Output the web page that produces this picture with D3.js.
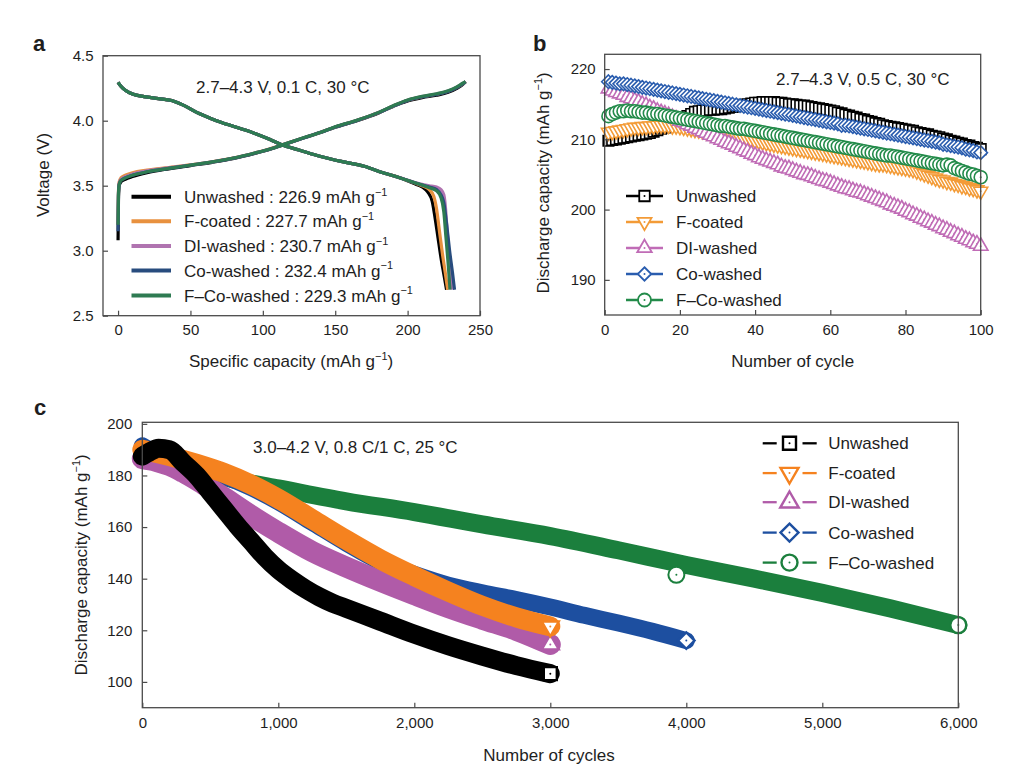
<!DOCTYPE html>
<html><head><meta charset="utf-8">
<script src="https://cdn.jsdelivr.net/npm/d3@7"></script>
<style>
html,body{margin:0;padding:0;background:#fff;}
svg{display:block;}
</style></head><body>
<svg id="chart" width="1019" height="773"></svg>
<script>
// ---------------- DATA ----------------
const seriesNames = ["Unwashed", "F-coated", "DI-washed", "Co-washed", "F\u2013Co-washed"];
const capacityLabels = ["226.9", "227.7", "230.7", "232.4", "229.3"];

const colorsA = ["#000000", "#E8913F", "#B074B0", "#284C7E", "#2E7B52"];
const colorsB = ["#000000", "#F39B37", "#C06CB6", "#2A5DAF", "#238B4A"];
const colorsC = ["#000000", "#F5821F", "#B05BA8", "#1D4FA0", "#1B7F3D"];

// Panel a ticks
const ticksAx = [0, 50, 100, 150, 200, 250];
const ticksAy = [2.5, 3.0, 3.5, 4.0, 4.5];
// Panel b ticks
const ticksBx = [0, 20, 40, 60, 80, 100];
const ticksBy = [190, 200, 210, 220];
// Panel c ticks
const ticksCx = [0, 1000, 2000, 3000, 4000, 5000, 6000];
const ticksCy = [100, 120, 140, 160, 180, 200];

// Panel a: charge curves [capacity, voltage]
const chargeUnwashed = [[0,3.08],[0.3,3.42],[0.8,3.5],[2,3.53],[5,3.55],[10,3.57],[20,3.6],[35,3.63],[50,3.655],[65,3.68],[80,3.71],[95,3.75],[105,3.78],[113,3.81],[125,3.855],[140,3.91],[150,3.95],[165,4.0],[180,4.06],[190,4.11],[200,4.152],[210,4.178],[220,4.196],[228,4.218],[234,4.248],[238,4.278],[240,4.3]];
const chargeFcoated = [[0,3.2],[0.3,3.46],[0.8,3.53],[2,3.56],[5,3.58],[10,3.6],[20,3.62],[35,3.64],[50,3.66],[65,3.684],[80,3.714],[95,3.754],[105,3.784],[113,3.812],[125,3.857],[140,3.912],[150,3.952],[165,4.003],[180,4.063],[190,4.113],[200,4.157],[210,4.184],[220,4.203],[228,4.226],[234,4.256],[238,4.283],[240,4.3]];
const chargeDIwashed = [[0,3.2],[0.3,3.45],[0.8,3.52],[2,3.55],[5,3.57],[10,3.59],[20,3.615],[35,3.637],[50,3.659],[65,3.683],[80,3.713],[95,3.753],[105,3.783],[113,3.812],[125,3.857],[140,3.912],[150,3.952],[165,4.003],[180,4.063],[190,4.113],[200,4.158],[210,4.186],[220,4.205],[228,4.228],[234,4.258],[238,4.285],[240,4.3]];
const chargeCowashed = [[0,3.15],[0.3,3.44],[0.8,3.51],[2,3.54],[5,3.56],[10,3.58],[20,3.607],[35,3.633],[50,3.657],[65,3.682],[80,3.712],[95,3.752],[105,3.782],[113,3.811],[125,3.856],[140,3.911],[150,3.951],[165,4.002],[180,4.062],[190,4.112],[200,4.156],[210,4.183],[220,4.202],[228,4.224],[234,4.254],[238,4.282],[240,4.3]];
const chargeFCowashed = [[0,3.2],[0.3,3.44],[0.8,3.51],[2,3.54],[5,3.56],[10,3.58],[20,3.607],[35,3.633],[50,3.658],[65,3.683],[80,3.713],[95,3.753],[105,3.783],[113,3.812],[125,3.857],[140,3.912],[150,3.953],[165,4.004],[180,4.064],[190,4.115],[200,4.16],[210,4.188],[220,4.207],[228,4.23],[234,4.26],[238,4.288],[240,4.3]];

// Panel a: discharge curves [capacity, voltage]
const dischargeUnwashed = [[0,4.295],[2,4.265],[5,4.235],[10,4.205],[18,4.185],[28,4.17],[37,4.155],[45,4.12],[56,4.055],[68,4.0],[80,3.955],[95,3.9],[105,3.855],[113,3.815],[125,3.775],[140,3.725],[155,3.685],[170,3.65],[183,3.6],[195,3.56],[205,3.515],[210,3.49],[214,3.45],[217,3.38],[219,3.25],[221,3.1],[223,2.95],[225,2.82],[226.9,2.7]];
const dischargeFcoated = [[0,4.295],[2,4.265],[5,4.235],[10,4.205],[18,4.185],[28,4.17],[37,4.155],[45,4.12],[56,4.055],[68,4.0],[80,3.955],[95,3.9],[105,3.855],[113,3.815],[125,3.775],[140,3.725],[155,3.685],[170,3.65],[183,3.6],[195,3.56],[205,3.52],[210,3.5],[215,3.47],[218,3.42],[220,3.32],[222,3.15],[224,2.98],[226,2.83],[227.7,2.7]];
const dischargeDIwashed = [[0,4.295],[2,4.265],[5,4.235],[10,4.205],[18,4.185],[28,4.17],[37,4.155],[45,4.12],[56,4.055],[68,4.0],[80,3.955],[95,3.9],[105,3.855],[113,3.815],[125,3.775],[140,3.725],[155,3.685],[170,3.65],[183,3.6],[195,3.56],[205,3.525],[210,3.51],[215,3.5],[220,3.49],[223,3.47],[225,3.43],[226,3.35],[227,3.2],[228.5,2.98],[229.7,2.82],[230.7,2.7]];
const dischargeCowashed = [[0,4.295],[2,4.265],[5,4.235],[10,4.205],[18,4.185],[28,4.17],[37,4.155],[45,4.12],[56,4.055],[68,4.0],[80,3.955],[95,3.9],[105,3.855],[113,3.815],[125,3.775],[140,3.725],[155,3.685],[170,3.65],[183,3.6],[195,3.56],[205,3.522],[210,3.505],[215,3.49],[220,3.47],[223,3.43],[225,3.37],[227,3.2],[229,3.0],[231,2.83],[232.4,2.7]];
const dischargeFCowashed = [[0,4.295],[2,4.265],[5,4.235],[10,4.205],[18,4.185],[28,4.17],[37,4.155],[45,4.12],[56,4.055],[68,4.0],[80,3.955],[95,3.9],[105,3.855],[113,3.815],[125,3.775],[140,3.725],[155,3.685],[170,3.65],[183,3.6],[195,3.56],[205,3.522],[210,3.505],[215,3.485],[220,3.46],[223,3.41],[225,3.3],[226.5,3.1],[228,2.9],[229.3,2.7]];

// Panel b: discharge capacity per cycle (cycles 1..100)
const cyclesB = d3.range(1, 101);
const capBUnwashed = [209.8,209.9,210.0,210.1,210.2,210.3,210.4,210.5,210.6,210.7,
 210.8,210.9,211.1,211.3,211.5,211.7,211.9,212.1,212.4,212.7,
 213.0,213.3,213.6,213.9,214.0,214.1,214.1,214.2,214.2,214.3,
 214.3,214.4,214.5,214.6,214.7,214.8,214.9,215.0,215.1,215.2,
 215.2,215.3,215.3,215.3,215.3,215.2,215.2,215.1,215.0,215.0,
 214.9,214.8,214.8,214.7,214.6,214.5,214.4,214.3,214.2,214.1,
 214.0,213.8,213.7,213.5,213.4,213.2,213.1,212.9,212.8,212.6,
 212.5,212.3,212.2,212.0,211.9,211.8,211.7,211.6,211.5,211.4,
 211.3,211.2,211.0,210.9,210.8,210.7,210.5,210.4,210.3,210.1,
 210.0,209.8,209.7,209.5,209.4,209.2,209.1,208.9,208.8,208.6];
const capBFcoated = [211.0,211.1,211.2,211.3,211.4,211.5,211.6,211.7,211.7,211.8,
 211.8,211.9,211.9,212.0,212.0,212.0,212.0,211.9,211.9,211.8,
 211.7,211.6,211.5,211.4,211.3,211.2,211.1,211.0,210.9,210.8,
 210.7,210.6,210.5,210.4,210.3,210.2,210.1,210.0,209.9,209.8,
 209.7,209.6,209.5,209.4,209.3,209.2,209.1,209.0,208.9,208.8,
 208.7,208.6,208.5,208.4,208.3,208.2,208.1,208.0,207.9,207.8,
 207.7,207.6,207.5,207.4,207.3,207.2,207.1,207.0,206.9,206.8,
 206.7,206.6,206.5,206.5,206.4,206.3,206.2,206.1,206.0,205.9,
 205.8,205.7,205.5,205.3,205.1,204.9,204.7,204.5,204.3,204.2,
 204.0,203.9,203.7,203.6,203.4,203.3,203.1,203.0,202.8,202.6];
const capBDIwashed = [217.2,216.9,216.7,216.5,216.3,216.0,215.8,215.5,215.3,215.0,
 214.8,214.5,214.3,214.0,213.8,213.6,213.4,213.1,212.9,212.6,
 212.4,212.1,211.9,211.6,211.4,211.1,210.9,210.6,210.4,210.1,
 209.9,209.6,209.4,209.2,208.9,208.7,208.4,208.2,207.9,207.7,
 207.4,207.2,207.0,206.8,206.6,206.4,206.1,205.9,205.8,205.6,
 205.4,205.2,205.0,204.9,204.7,204.5,204.3,204.1,204.0,203.8,
 203.6,203.4,203.2,203.0,202.9,202.7,202.5,202.4,202.2,202.0,
 201.8,201.6,201.4,201.2,201.0,200.7,200.5,200.3,200.1,199.8,
 199.6,199.3,199.1,198.8,198.6,198.3,198.1,197.8,197.6,197.3,
 197.1,196.8,196.6,196.3,196.1,195.8,195.6,195.3,195.1,194.8];
const capBCowashed = [218.2,218.1,218.0,217.9,217.9,217.8,217.7,217.6,217.5,217.4,
 217.3,217.2,217.1,217.0,216.9,216.8,216.7,216.6,216.5,216.4,
 216.3,216.2,216.1,216.0,215.9,215.8,215.7,215.6,215.5,215.4,
 215.3,215.2,215.1,215.0,214.9,214.8,214.7,214.6,214.5,214.4,
 214.3,214.2,214.1,214.0,213.9,213.8,213.7,213.6,213.5,213.4,
 213.3,213.2,213.1,213.0,212.9,212.8,212.7,212.6,212.5,212.4,
 212.3,212.2,212.0,212.0,211.9,211.8,211.7,211.6,211.5,211.4,
 211.3,211.2,211.1,211.0,210.9,210.8,210.7,210.6,210.5,210.4,
 210.3,210.2,210.1,210.0,209.9,209.8,209.7,209.6,209.5,209.3,
 209.2,209.1,209.0,208.9,208.8,208.6,208.5,208.4,208.2,208.1];
const capBFCowashed = [213.3,213.6,213.8,214.0,214.0,214.1,214.0,214.0,213.9,213.8,
 213.8,213.7,213.6,213.6,213.5,213.4,213.3,213.2,213.1,213.0,
 212.9,212.8,212.7,212.6,212.5,212.4,212.3,212.2,212.1,212.0,
 211.9,211.9,211.8,211.7,211.6,211.5,211.5,211.4,211.3,211.2,
 211.1,211.0,210.9,210.8,210.7,210.6,210.5,210.4,210.3,210.2,
 210.1,210.0,209.9,209.8,209.7,209.6,209.5,209.4,209.3,209.2,
 209.1,209.0,208.9,208.8,208.7,208.6,208.5,208.4,208.3,208.2,
 208.1,208.0,207.9,207.8,207.7,207.7,207.6,207.5,207.4,207.3,
 207.2,207.1,207.0,206.9,206.8,206.7,206.6,206.5,206.4,206.3,
 206.4,206.3,205.9,205.7,205.5,205.3,205.1,205.0,204.8,204.6];

// Panel c: long-term cycling [cycle, capacity]
const cycC_Unwashed = [[0,187.5],[50,189],[120,190.5],[200,190],[300,185],[400,180],[500,173.5],[600,167],[700,160.5],[800,154.5],[900,148.5],[1000,143.5],[1100,139.5],[1200,136],[1300,133],[1400,130.5],[1500,128.5],[1750,123.5],[2000,118.5],[2250,114],[2500,110],[2750,106.3],[3000,103.2]];
const cycC_Fcoated = [[0,190],[200,187.5],[400,184.5],[600,181],[800,176.5],[1000,171],[1250,163],[1500,155],[1750,147.5],[2000,141],[2250,135],[2500,129.5],[2750,125],[3000,121.5]];
const cycC_DIwashed = [[0,186.5],[100,185.5],[200,183.8],[300,181.2],[450,176.5],[600,171.5],[800,164.5],[1000,158],[1250,150.5],[1500,144.5],[1750,139],[2000,133.8],[2250,128.8],[2500,124.3],[2750,120],[3000,114.5]];
const cycC_Cowashed = [[0,191.5],[100,188.5],[200,186],[400,183.2],[600,179.8],[800,175.3],[1000,169.8],[1250,161.8],[1500,153.8],[1750,146.6],[2000,141.7],[2250,137.5],[2500,134.5],[2750,131.9],[3000,129],[3250,125.8],[3500,122.8],[3750,119.6],[4000,116]];
const cycC_FCowashed = [[0,189],[250,184.5],[500,181],[750,177.5],[1000,175],[1500,170],[2000,165.8],[2500,161],[3000,156.5],[3500,151],[4000,145.3],[4500,140],[5000,134.5],[5500,128.5],[6000,122]];
const extraC_FCowashed = [[3927,141.5]];

// ---------------- HELPERS ----------------
const FONT = '"Liberation Sans", Arial, Helvetica, sans-serif';
const TXT = "#1e1e1e";
const FRAME = "#4a4a4a";
const svg = d3.select("#chart").attr("font-family", FONT);

const symSquare = {draw(c, s){ const h = s/2; c.moveTo(-h,-h); c.lineTo(h,-h); c.lineTo(h,h); c.lineTo(-h,h); c.closePath(); }};
const symTriUp = {draw(c, s){ const h = s*Math.sqrt(3)/2; c.moveTo(0,-2*h/3); c.lineTo(s/2,h/3); c.lineTo(-s/2,h/3); c.closePath(); }};
const symTriDown = {draw(c, s){ const h = s*Math.sqrt(3)/2; c.moveTo(0,2*h/3); c.lineTo(s/2,-h/3); c.lineTo(-s/2,-h/3); c.closePath(); }};
const symDiamond = {draw(c, s){ const r = s/2; c.moveTo(0,-r); c.lineTo(r,0); c.lineTo(0,r); c.lineTo(-r,0); c.closePath(); }};
const symCircle = {draw(c, s){ const r = s/2; c.moveTo(r,0); c.arc(0,0,r,0,2*Math.PI); c.closePath(); }};
const symbols = [symSquare, symTriDown, symTriUp, symDiamond, symCircle];

function marker(g, x, y, si, size, color, sw) {
  g.append("path").attr("transform", `translate(${x},${y})`)
    .attr("d", d3.symbol(symbols[si], size)())
    .attr("fill", "#fff").attr("stroke", color).attr("stroke-width", sw).attr("stroke-linejoin", "miter");
  g.append("circle").attr("cx", x).attr("cy", y).attr("r", 1).attr("fill", color);
}

function supText(g, x, y, before, sup, after, size, opts = {}) {
  const t = g.append("text").attr("x", x).attr("y", y).attr("font-size", size).attr("fill", TXT);
  if (opts.anchor) t.attr("text-anchor", opts.anchor);
  if (opts.rotate) t.attr("transform", `rotate(-90,${x},${y})`);
  t.append("tspan").text(before);
  t.append("tspan").attr("dy", -size*0.42).attr("font-size", size*0.64).text(sup);
  t.append("tspan").attr("dy", size*0.42).text(after || "");
  return t;
}

function drawAxes(g, xs, ys, xt, yt, xfmt, yfmt, xpad, ypad) {
  const gx = g.append("g").attr("transform", `translate(0,${ys.range()[0]})`)
    .call(d3.axisBottom(xs).tickValues(xt).tickSizeInner(-5).tickSizeOuter(0).tickPadding(xpad).tickFormat(xfmt));
  const gy = g.append("g").attr("transform", `translate(${xs.range()[0]},0)`)
    .call(d3.axisLeft(ys).tickValues(yt).tickSizeInner(-5).tickSizeOuter(0).tickPadding(ypad).tickFormat(yfmt));
  [gx, gy].forEach(a => {
    a.attr("font-family", FONT).attr("font-size", 15);
    a.select(".domain").remove();
    a.selectAll(".tick line").attr("stroke", FRAME).attr("stroke-width", 1.2);
    a.selectAll(".tick text").attr("fill", TXT);
  });
  const [x0, x1] = xs.range(), [y0, y1] = ys.range();
  g.append("rect").attr("x", x0).attr("y", y1).attr("width", x1 - x0).attr("height", y0 - y1)
    .attr("fill", "none").attr("stroke", FRAME).attr("stroke-width", 1.3);
}

function label(g, x, y, t, size, opts = {}) {
  const e = g.append("text").attr("x", x).attr("y", y).attr("font-size", size).attr("fill", opts.color || TXT).text(t);
  if (opts.anchor) e.attr("text-anchor", opts.anchor);
  if (opts.bold) e.attr("font-weight", "bold");
  return e;
}

// ---------------- PANEL A ----------------
{
  const g = svg.append("g");
  const x = d3.scaleLinear().domain([-10.4, 250]).range([103, 480]);
  const y = d3.scaleLinear().domain([2.5, 4.5]).range([315.7, 55.7]);
  const charges = [chargeUnwashed, chargeFcoated, chargeDIwashed, chargeCowashed, chargeFCowashed];
  const discharges = [dischargeUnwashed, dischargeFcoated, dischargeDIwashed, dischargeCowashed, dischargeFCowashed];
  const line = d3.line().x(d => x(d[0])).y(d => y(d[1])).curve(d3.curveMonotoneX);
  const lg = g.append("g");
  for (let i = 0; i < 5; i++) {
    lg.append("path").datum(charges[i]).attr("d", line).attr("fill", "none").attr("stroke", colorsA[i]).attr("stroke-width", 3.2).attr("stroke-linejoin", "round");
    lg.append("path").datum(discharges[i]).attr("d", line).attr("fill", "none").attr("stroke", colorsA[i]).attr("stroke-width", 3.2).attr("stroke-linejoin", "round");
  }
  drawAxes(g, x, y, ticksAx, ticksAy, d3.format("d"), d3.format(".1f"), 9, 9.5);
  label(g, 196, 93, "2.7\u20134.3 V, 0.1 C, 30 \u00B0C", 17);
  const rows = [196.7, 221.2, 245.9, 270.6, 295.5];
  for (let i = 0; i < 5; i++) {
    g.append("line").attr("x1", 131.5).attr("x2", 171).attr("y1", rows[i]).attr("y2", rows[i]).attr("stroke", colorsA[i]).attr("stroke-width", 4);
    supText(g, 184, rows[i] + 6, `${seriesNames[i]} : ${capacityLabels[i]} mAh g`, "\u22121", "", 17);
  }
  label(g, 33, 51, "a", 22, {bold: true});
  supText(g, 49, 175, "Voltage (V)", "", "", 17, {anchor: "middle", rotate: true});
  supText(g, 291, 367, "Specific capacity (mAh g", "\u22121", ")", 17, {anchor: "middle"});
}

// ---------------- PANEL B ----------------
{
  const g = svg.append("g");
  const x = d3.scaleLinear().domain([0, 100]).range([604.7, 980.7]);
  const y = d3.scaleLinear().domain([185, 222.1]).range([315, 54.3]);
  const vals = [capBUnwashed, capBFcoated, capBDIwashed, capBCowashed, capBFCowashed];
  const sizes = [10.5, 14, 14.5, 13.5, 13];
  const line = d3.line().x(d => x(d[0])).y(d => y(d[1]));
  for (let i = 0; i < 5; i++) {
    const pts = cyclesB.map((c, k) => [c, vals[i][k]]);
    g.append("path").datum(pts).attr("d", line).attr("fill", "none").attr("stroke", colorsB[i]).attr("stroke-width", 1.5);
    const mg = g.append("g");
    pts.forEach(p => marker(mg, x(p[0]), y(p[1]), i, sizes[i], colorsB[i], 1.6));
  }
  drawAxes(g, x, y, ticksBx, ticksBy, d3.format("d"), d3.format("d"), 9, 9);
  label(g, 776, 85, "2.7\u20134.3 V, 0.5 C, 30 \u00B0C", 17);
  const rows = [196, 222, 248, 274, 300];
  for (let i = 0; i < 5; i++) {
    g.append("line").attr("x1", 626).attr("x2", 663).attr("y1", rows[i]).attr("y2", rows[i]).attr("stroke", colorsB[i]).attr("stroke-width", 2.5);
    marker(g, 644.5, rows[i], i, sizes[i], colorsB[i], 1.8);
    label(g, 676, rows[i] + 6, seriesNames[i], 17);
  }
  label(g, 533, 51, "b", 22, {bold: true});
  supText(g, 549, 183, "Discharge capacity (mAh g", "\u22121", ")", 17, {anchor: "middle", rotate: true});
  label(g, 792.7, 367, "Number of cycle", 17, {anchor: "middle"});
}

// ---------------- PANEL C ----------------
{
  const g = svg.append("g");
  const x = d3.scaleLinear().domain([0, 6000]).range([142.3, 958.3]);
  const y = d3.scaleLinear().domain([90, 200.6]).range([707.7, 422.3]);
  const data = [cycC_Unwashed, cycC_Fcoated, cycC_DIwashed, cycC_Cowashed, cycC_FCowashed];
  const line = d3.line().x(d => x(d[0])).y(d => y(d[1])).curve(d3.curveMonotoneX);
  const endSizes = [13, 17, 17, 16.5, 16];
  const widths = [19, 20, 21, 17, 18];
  const order = [4, 3, 2, 1, 0];
  order.forEach(i => {
    g.append("path").datum(data[i]).attr("d", line).attr("fill", "none").attr("stroke", colorsC[i])
      .attr("stroke-width", widths[i]).attr("stroke-linecap", "round").attr("stroke-linejoin", "round");
    if (i === 4) extraC_FCowashed.forEach(p => marker(g, x(p[0]), y(p[1]), i, endSizes[i], colorsC[i], 2));
    const last = data[i][data[i].length - 1];
    marker(g, x(last[0]), y(last[1]), i, endSizes[i], colorsC[i], 2.4);
  });
  drawAxes(g, x, y, ticksCx, ticksCy, d3.format(","), d3.format("d"), 10, 10);
  label(g, 253, 452.5, "3.0\u20134.2 V, 0.8 C/1 C, 25 \u00B0C", 17);
  const rows = [443.3, 473.1, 502.2, 532.6, 562.6];
  const legSizes = [13, 18, 18.5, 18, 16];
  for (let i = 0; i < 5; i++) {
    g.append("line").attr("x1", 762.7).attr("x2", 776.7).attr("y1", rows[i]).attr("y2", rows[i]).attr("stroke", colorsC[i]).attr("stroke-width", 2.3);
    g.append("line").attr("x1", 802.5).attr("x2", 816.7).attr("y1", rows[i]).attr("y2", rows[i]).attr("stroke", colorsC[i]).attr("stroke-width", 2.3);
    marker(g, 789.5, rows[i], i, legSizes[i], colorsC[i], 2.4);
    label(g, 828.3, rows[i] + 6, seriesNames[i], 17);
  }
  label(g, 34, 415, "c", 22, {bold: true});
  supText(g, 87, 565, "Discharge capacity (mAh g", "\u22121", ")", 17, {anchor: "middle", rotate: true});
  label(g, 549, 761, "Number of cycles", 17, {anchor: "middle"});
}
</script>
</body></html>
